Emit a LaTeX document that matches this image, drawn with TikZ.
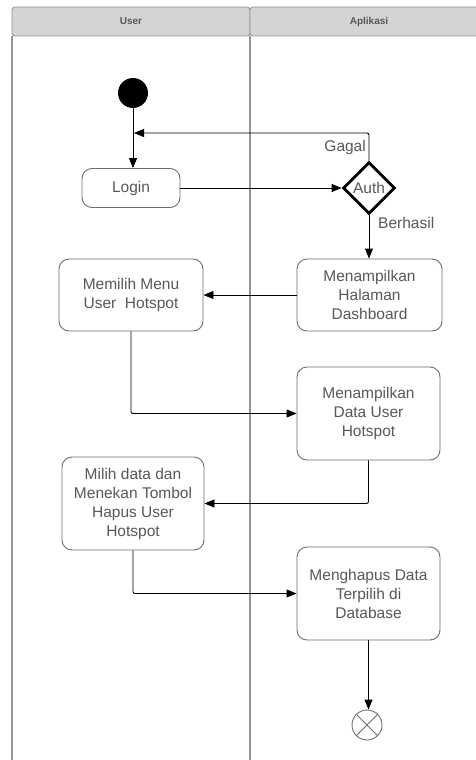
\documentclass[tikz,border=0pt]{standalone}
\usepackage{fontspec}
\setmainfont{Liberation Sans}
\usetikzlibrary{shapes.geometric,arrows.meta}
\definecolor{txt}{RGB}{88,88,88}
\definecolor{lanegray}{RGB}{150,150,150}
\definecolor{hdrfill}{RGB}{212,212,212}
\definecolor{boxline}{RGB}{110,110,110}
\tikzset{
  act/.style={draw=boxline, line width=0.9pt, rounded corners=10pt, align=center,
    text=txt, font=\fontsize{15.5}{19}\selectfont, inner sep=2pt},
  arr/.style={draw=black, line width=0.9pt, -{Triangle[length=10pt,width=8pt]}, rounded corners=2pt},
  lbl/.style={text=txt, font=\fontsize{15.5}{19}\selectfont, inner sep=0pt},
  hdr/.style={draw=lanegray, fill=hdrfill, line width=0.9pt, rounded corners=3pt},
  lane/.style={draw=lanegray, line width=1.1pt},
  hdrtext/.style={text=txt, font=\fontsize{10}{12}\selectfont\bfseries}
}
\begin{document}
\begin{tikzpicture}[x=1pt,y=-1pt]
\useasboundingbox (0,0) rectangle (475,760);
\fill[white] (0,0) rectangle (475,760);
% swimlanes
\draw[hdr] (12,36) -- (12,7) -- (250,7) -- (250,36) -- cycle;
\draw[hdr] (250,36) -- (250,7) -- (490,7) -- (490,36) -- cycle;
\draw[lane] (12,36) -- (12,762);
\draw[lane] (250,36) -- (250,762);
\node[hdrtext] (hUser) at (131,21.5) {User};
\node[hdrtext] (hApp) at (369,21.5) {Aplikasi};
% nodes
\node[circle, fill=black, minimum size=30pt, inner sep=0pt] (start) at (133,93) {};
\node[act, minimum width=98pt, minimum height=39pt] (login) at (131,188) {Login};
\node[diamond, draw=black, line width=2.8pt, minimum width=52pt, minimum height=52pt,
  inner sep=0pt, text=txt, font=\fontsize{15.5}{19}\selectfont] (auth) at (369,188) {Auth};
\node[act, minimum width=144pt, minimum height=72pt] (menu) at (131,295) {Memilih Menu\\User\ \ Hotspot};
\node[act, minimum width=145pt, minimum height=72pt] (dash) at (369.5,295) {Menampilkan\\Halaman\\Dashboard};
\node[act, minimum width=143pt, minimum height=93pt] (data) at (368.5,413.5) {Menampilkan\\Data User\\Hotspot};
\node[act, minimum width=142pt, minimum height=93pt] (milih) at (133,503.5) {Milih data dan\\Menekan Tombol\\Hapus User\\Hotspot};
\node[act, minimum width=143pt, minimum height=93pt] (hapus) at (368.5,593.5) {Menghapus Data\\Terpilih di\\Database};
\node[circle, draw=boxline, line width=0.9pt, minimum size=30pt, inner sep=0pt] (end) at (367,725) {};
\draw[boxline, line width=0.9pt] (end.45) -- (end.225) (end.135) -- (end.315);
% labels
\node[lbl, anchor=east] (gagal) at (366,147) {Gagal};
\node[lbl, anchor=west] (berhasil) at (378,223) {Berhasil};
% connectors
\coordinate (loopin) at (134,133);
\draw[arr] (start.south) -- (start.south |- login.north);
\draw[arr] (auth.north) |- (loopin);
\draw[arr] (login.east) -- (auth.west);
\draw[arr] (auth.south) -- (auth.south |- dash.north);
\draw[arr] (dash.west) -- (menu.east);
\draw[arr] (menu.south) |- (data.west);
\draw[arr] (data.south) |- (milih.east);
\draw[arr] (milih.south) |- (hapus.west);
\draw[arr] (hapus.south) -- (hapus.south |- end.north);
\end{tikzpicture}
\end{document}
